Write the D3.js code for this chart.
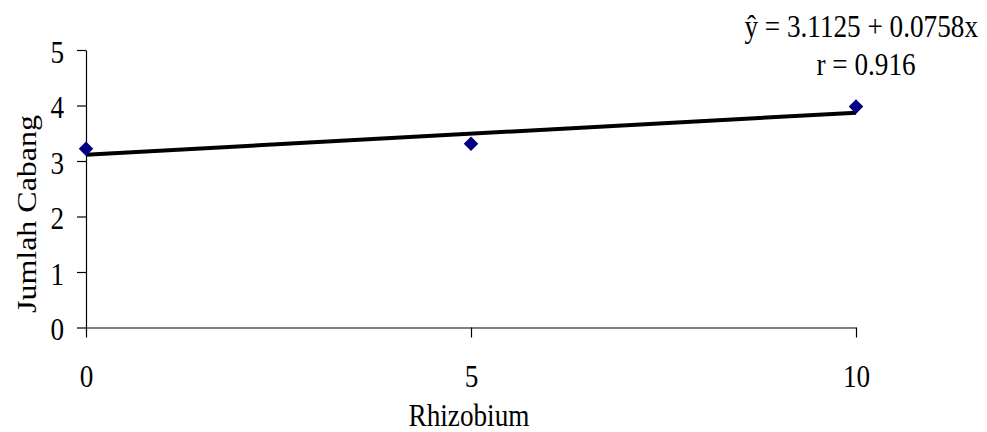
<!DOCTYPE html>
<html>
<head>
<meta charset="utf-8">
<script src="https://cdn.jsdelivr.net/npm/d3@7"></script>
<style>
  html, body { margin: 0; padding: 0; background: #fff; }
  svg { display: block; }
  text { font-family: "Liberation Serif", "Times New Roman", serif; fill: #000; }
</style>
</head>
<body>
<svg id="chart" width="987" height="432"></svg>
<script>
// Data
const xValues = [0, 5, 10];
const yValues = [3.22, 3.31, 3.98];
const xTicks = [0, 5, 10];
const yTicks = [0, 1, 2, 3, 4, 5];
const trendIntercept = 3.1125;
const trendSlope = 0.0758;
const equationText = "ŷ = 3.1125 + 0.0758x";
const rText = "r = 0.916";
const xTitle = "Rhizobium";
const yTitle = "Jumlah Cabang";

const FS = 32;       // font size
const SX = 0.85;     // horizontal squeeze of text

const svg = d3.select("#chart");
const x = d3.scaleLinear().domain([0, 10]).range([86, 856]);
const y = d3.scaleLinear().domain([0, 5]).range([327.5, 50]);

// Y axis
const yAxis = svg.append("g")
  .attr("transform", `translate(${x(0)},0)`)
  .call(d3.axisLeft(y).tickValues(yTicks).tickSize(9).tickSizeOuter(0).tickFormat(d3.format("d")));
yAxis.attr("font-family", null).attr("font-size", null);
yAxis.select(".domain").attr("stroke", "#000").attr("stroke-width", 1.2);
yAxis.selectAll(".tick line").attr("stroke", "#000").attr("stroke-width", 1.2);
yAxis.selectAll(".tick text")
  .attr("x", null).attr("dy", null)
  .attr("font-size", FS)
  .attr("text-anchor", "end")
  .attr("transform", `translate(-22,12) scale(${SX},1)`);

// X axis
const xAxis = svg.append("g")
  .attr("transform", `translate(0,${y(0)})`)
  .call(d3.axisBottom(x).tickValues(xTicks).tickSize(10).tickSizeOuter(0).tickFormat(d3.format("d")));
xAxis.attr("font-family", null).attr("font-size", null);
xAxis.select(".domain").attr("stroke", "#808080").attr("stroke-width", 2.2);
xAxis.selectAll(".tick line").attr("stroke", "#000").attr("stroke-width", 1.2);
xAxis.selectAll(".tick text")
  .attr("y", null).attr("dy", null)
  .attr("font-size", FS)
  .attr("text-anchor", "middle")
  .attr("transform", `translate(0,59) scale(${SX},1)`);

// Trendline
const line = d3.line().x(d => x(d)).y(d => y(trendIntercept + trendSlope * d));
svg.append("path")
  .datum([xTicks[0], xTicks[xTicks.length - 1]])
  .attr("d", line)
  .attr("fill", "none")
  .attr("stroke", "#000")
  .attr("stroke-width", 4);

// Points (diamonds)
const pts = xValues.map((v, i) => ({ x: v, y: yValues[i] }));
svg.selectAll(".pt").data(pts).enter().append("path")
  .attr("class", "pt")
  .attr("d", d3.symbol().type(d3.symbolDiamond2).size(135))
  .attr("transform", d => `translate(${x(d.x)},${y(d.y)})`)
  .attr("fill", "#000080");

// Equation texts
svg.append("text")
  .attr("text-anchor", "end")
  .attr("font-size", FS)
  .attr("transform", `translate(978,37) scale(${SX},1)`)
  .text(equationText);
svg.append("text")
  .attr("text-anchor", "middle")
  .attr("font-size", FS)
  .attr("transform", `translate(866,75) scale(${SX},1)`)
  .text(rText);

// Axis titles
svg.append("text")
  .attr("text-anchor", "middle")
  .attr("font-size", FS)
  .attr("transform", `translate(469,426) scale(${SX},1)`)
  .text(xTitle);
svg.append("text")
  .attr("text-anchor", "middle")
  .attr("font-size", FS)
  .attr("transform", `translate(36,214) scale(${SX},1) rotate(-90)`)
  .text(yTitle);
</script>
</body>
</html>
